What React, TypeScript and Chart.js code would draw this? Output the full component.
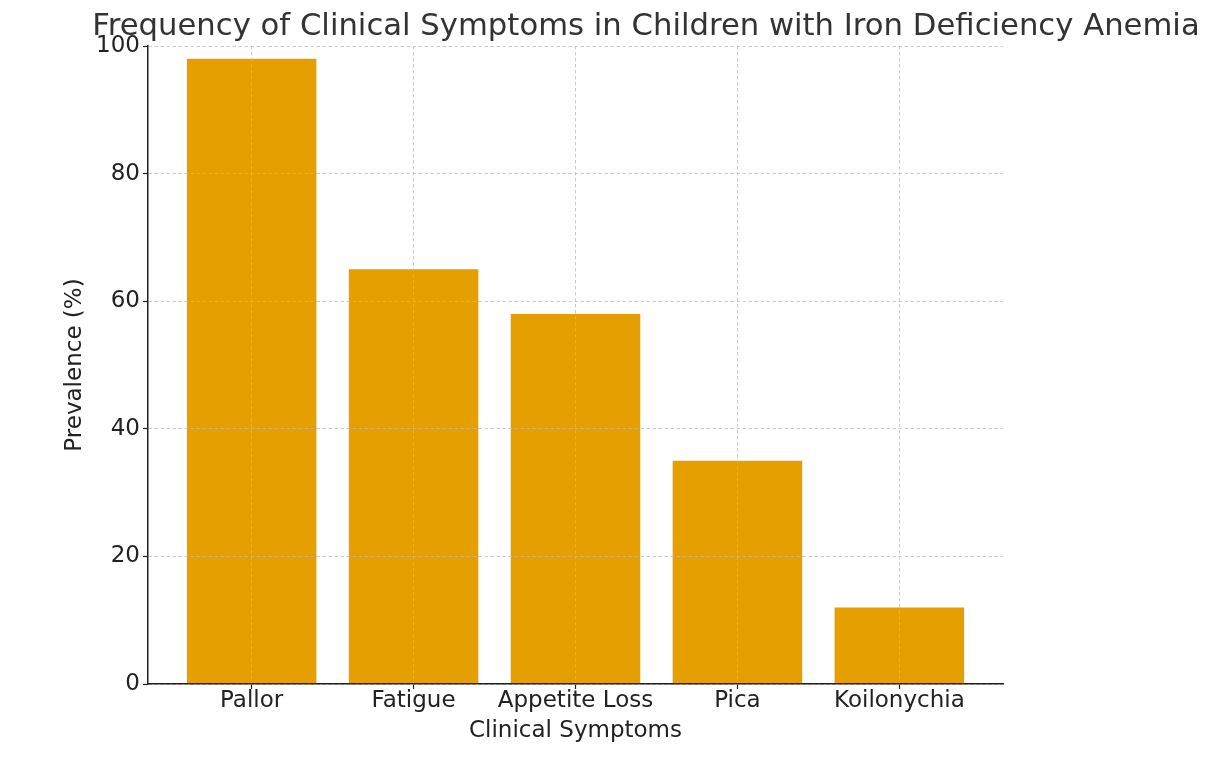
import React, { useEffect, useRef } from "react";
import { Chart, registerables } from "chart.js";

Chart.register(...registerables);

const categories = ["Pallor", "Fatigue", "Appetite Loss", "Pica", "Koilonychia"];
const prevalence = [98, 65, 58, 35, 12];
const yTicks = [0, 20, 40, 60, 80, 100];
const titleText = "Frequency of Clinical Symptoms in Children with Iron Deficiency Anemia";
const xTitle = "Clinical Symptoms";
const yTitle = "Prevalence (%)";

const FONT = '"DejaVu Sans", "Liberation Sans", sans-serif';

export default function App() {
  const ref = useRef<HTMLCanvasElement | null>(null);

  useEffect(() => {
    if (!ref.current) return;
    const titlePlugin = {
      id: "customTitle",
      afterDraw(chart: any) {
        const ctx = chart.ctx;
        ctx.save();
        ctx.font = `30.7px ${FONT}`;
        ctx.fillStyle = "#333333";
        ctx.textAlign = "center";
        ctx.textBaseline = "alphabetic";
        ctx.fillText(titleText, 646, 35);
        ctx.restore();
      },
    };
    const gridCommon = {
      z: 1,
      color: "rgba(185,185,185,0.75)",
      lineWidth: 1,
      tickLength: 5,
      tickColor: "#222222",
      tickWidth: 1.2,
      tickBorderDash: [],
      offset: false,
    };
    const borderCommon = { display: true, color: "#222222", width: 1.5, z: 2, dash: [3.5, 2.5] };
    const chart = new Chart(ref.current, {
      type: "bar",
      data: {
        datasets: [
          {
            data: categories.map((c, i) => ({ x: i, y: prevalence[i] })),
            backgroundColor: "#E69F00",
            borderWidth: 0,
            barPercentage: 0.8,
            categoryPercentage: 1,
          },
        ],
      },
      plugins: [titlePlugin],
      options: {
        responsive: false,
        animation: false,
        devicePixelRatio: 1,
        layout: { padding: { left: 0, top: 46, right: 212, bottom: 0 } },
        plugins: { legend: { display: false }, title: { display: false }, tooltip: { enabled: false } },
        scales: {
          x: {
            type: "linear",
            offset: false,
            min: -0.64,
            max: 4.64,
            afterBuildTicks: (s: any) => {
              s.ticks = categories.map((_, i) => ({ value: i }));
            },
            afterFit: (s: any) => {
              s.height = 73;
            },
            ticks: {
              callback: (v: any) => categories[v as number],
              color: "#222222",
              font: { family: FONT, size: 23 },
              padding: -2,
              maxRotation: 0,
              autoSkip: false,
            },
            grid: { ...gridCommon } as any,
            border: { ...borderCommon } as any,
            title: {
              display: true,
              text: xTitle,
              color: "#222222",
              font: { family: FONT, size: 23 },
              padding: { top: 0, bottom: 12 },
            },
          },
          y: {
            min: 0,
            max: 100,
            afterBuildTicks: (s: any) => {
              s.ticks = yTicks.map((v) => ({ value: v }));
            },
            afterFit: (s: any) => {
              s.width = 148;
            },
            ticks: {
              color: "#222222",
              font: { family: FONT, size: 23 },
              padding: 3,
            },
            grid: { ...gridCommon } as any,
            border: { ...borderCommon } as any,
            title: {
              display: true,
              text: yTitle,
              color: "#222222",
              font: { family: FONT, size: 23 },
              padding: { top: 61, bottom: 0 },
            },
          },
        },
      } as any,
    });
    return () => chart.destroy();
  }, []);

  return (
    <div style={{ position: "absolute", left: 0, top: 0, width: 1215, height: 757, background: "#fff" }}>
      <canvas ref={ref} width={1215} height={757} style={{ display: "block" }} />
    </div>
  );
}
